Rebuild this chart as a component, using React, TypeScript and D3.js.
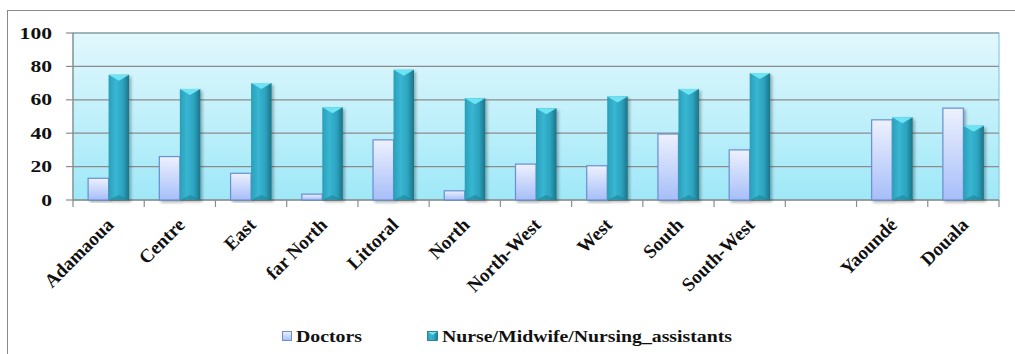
import React from "react";
import * as d3 from "d3";

const categories = ["Adamaoua", "Centre", "East", "far North", "Littoral", "North", "North-West", "West", "South", "South-West", "", "Yaoundé", "Douala"];
const doctors: (number | null)[] = [13, 26, 16, 3.5, 36, 5.5, 21.5, 20.5, 39.5, 30, null, 48, 55];
const nurses: (number | null)[] = [75, 66.5, 70, 55.5, 78, 61, 55, 62, 66.5, 76, null, 49.5, 44.5];
const yTicks = [0, 20, 40, 60, 80, 100];
const seriesNames = ["Doctors", "Nurse/Midwife/Nursing_assistants"];

const W = 1015, H = 354;
const plot = { left: 73, right: 999, top: 33, bottom: 200 };
const serif = "Liberation Serif";

export default function App() {
  const x = d3.scaleBand<number>().domain(categories.map((_, i) => i)).range([plot.left, plot.right]).padding(0);
  const y = d3.scaleLinear().domain([0, 100]).range([plot.bottom, plot.top]);
  const bw = 20.5;
  return (
    <svg width={W} height={H} style={{ position: "absolute", left: 0, top: 0, background: "#fff" }}>
      <defs>
        <linearGradient id="bg" x1="0" y1="0" x2="0" y2="1">
          <stop offset="0" stopColor="#e2f8fd" />
          <stop offset="1" stopColor="#9fe8f8" />
        </linearGradient>
        <linearGradient id="doc" x1="0" y1="0" x2="0" y2="1">
          <stop offset="0" stopColor="#eef1fe" />
          <stop offset="1" stopColor="#a6bef8" />
        </linearGradient>
        <linearGradient id="nur" x1="0" y1="0" x2="1" y2="0">
          <stop offset="0" stopColor="#2a9fb9" />
          <stop offset="0.35" stopColor="#38b6d2" />
          <stop offset="0.7" stopColor="#2ca3bf" />
          <stop offset="1" stopColor="#1b7386" />
        </linearGradient>
        <filter id="sh" x="-20%" y="-5%" width="150%" height="115%">
          <feDropShadow dx="2" dy="2" stdDeviation="1.5" floodColor="#000" floodOpacity="0.3" />
        </filter>
      </defs>
      <rect x={7.5} y={10.5} width={W + 10} height={H + 10} fill="#fff" stroke="#8a8a8a" strokeWidth={1} />
      <rect x={plot.left} y={plot.top} width={plot.right - plot.left} height={plot.bottom - plot.top} fill="url(#bg)" stroke="#86cede" strokeWidth={1.2} />
      {yTicks.filter(t => t > 0).map(t => (
        <line key={t} x1={plot.left} x2={plot.right} y1={y(t)} y2={y(t)} stroke="#8c8c8c" strokeWidth={1.2} />
      ))}
      <line x1={plot.left} x2={plot.left} y1={plot.top} y2={plot.bottom} stroke="#8c8c8c" strokeWidth={1.2} />
      <line x1={plot.left} x2={plot.right} y1={plot.bottom} y2={plot.bottom} stroke="#8c8c8c" strokeWidth={1.5} />
      {yTicks.map(t => (
        <g key={t}>
          <line x1={plot.left - 7} x2={plot.left} y1={y(t)} y2={y(t)} stroke="#8c8c8c" strokeWidth={1.2} />
          <text x={52} y={y(t)} dy="0.35em" textAnchor="end" fontFamily={serif} fontWeight="bold" fontSize={16}
            transform={`translate(52,0) scale(1.35,1) translate(-52,0)`} fill="#111">{t}</text>
        </g>
      ))}
      {d3.range(categories.length + 1).map(i => {
        const xx = plot.left + i * x.bandwidth();
        return <line key={i} x1={xx} x2={xx} y1={plot.bottom} y2={plot.bottom + 7} stroke="#8c8c8c" strokeWidth={1.2} />;
      })}
      {categories.map((c, i) => {
        const cx = (x(i) as number) + x.bandwidth() / 2;
        const d = doctors[i], n = nurses[i];
        return (
          <g key={i}>
            {d != null && (
              <rect x={cx - bw} y={y(d)} width={bw} height={y(0) - y(d)} fill="url(#doc)" stroke="#6b8fd2" strokeWidth={1.2} filter="url(#sh)" />
            )}
            {n != null && (
              <g filter="url(#sh)">
                <rect x={cx} y={y(n)} width={bw} height={y(0) - y(n)} fill="url(#nur)" />
                <path d={`M${cx},${y(n)} L${cx + bw},${y(n)} L${cx + bw / 2},${y(n) + 6} Z`} fill="#6de3f3" />
                <path d={`M${cx},${y(0)} L${cx + bw},${y(0)} L${cx + bw / 2},${y(0) - 5} Z`} fill="#1f8297" opacity={0.6} />
              </g>
            )}
            {c && (
              <text transform={`translate(${cx + 6},${plot.bottom + 26}) rotate(-45)`} textAnchor="end"
                fontFamily={serif} fontWeight="bold" fontSize={19} fill="#111">{c}</text>
            )}
          </g>
        );
      })}
      <rect x={282.5} y={331.5} width={9} height={9} fill="url(#doc)" stroke="#6b8fd2" strokeWidth={1} />
      <text x={296} y={342} fontFamily={serif} fontWeight="bold" fontSize={16} fill="#111" textLength={66} lengthAdjust="spacingAndGlyphs">{seriesNames[0]}</text>
      <rect x={427.5} y={331.5} width={10} height={9} fill="url(#nur)" stroke="#1b7386" strokeWidth={0.8} />
      <path d="M428,332 L437,332 L432.5,335 Z" fill="#6de3f3" />
      <text x={442} y={342} fontFamily={serif} fontWeight="bold" fontSize={16} fill="#111" textLength={290} lengthAdjust="spacingAndGlyphs">{seriesNames[1]}</text>
    </svg>
  );
}
